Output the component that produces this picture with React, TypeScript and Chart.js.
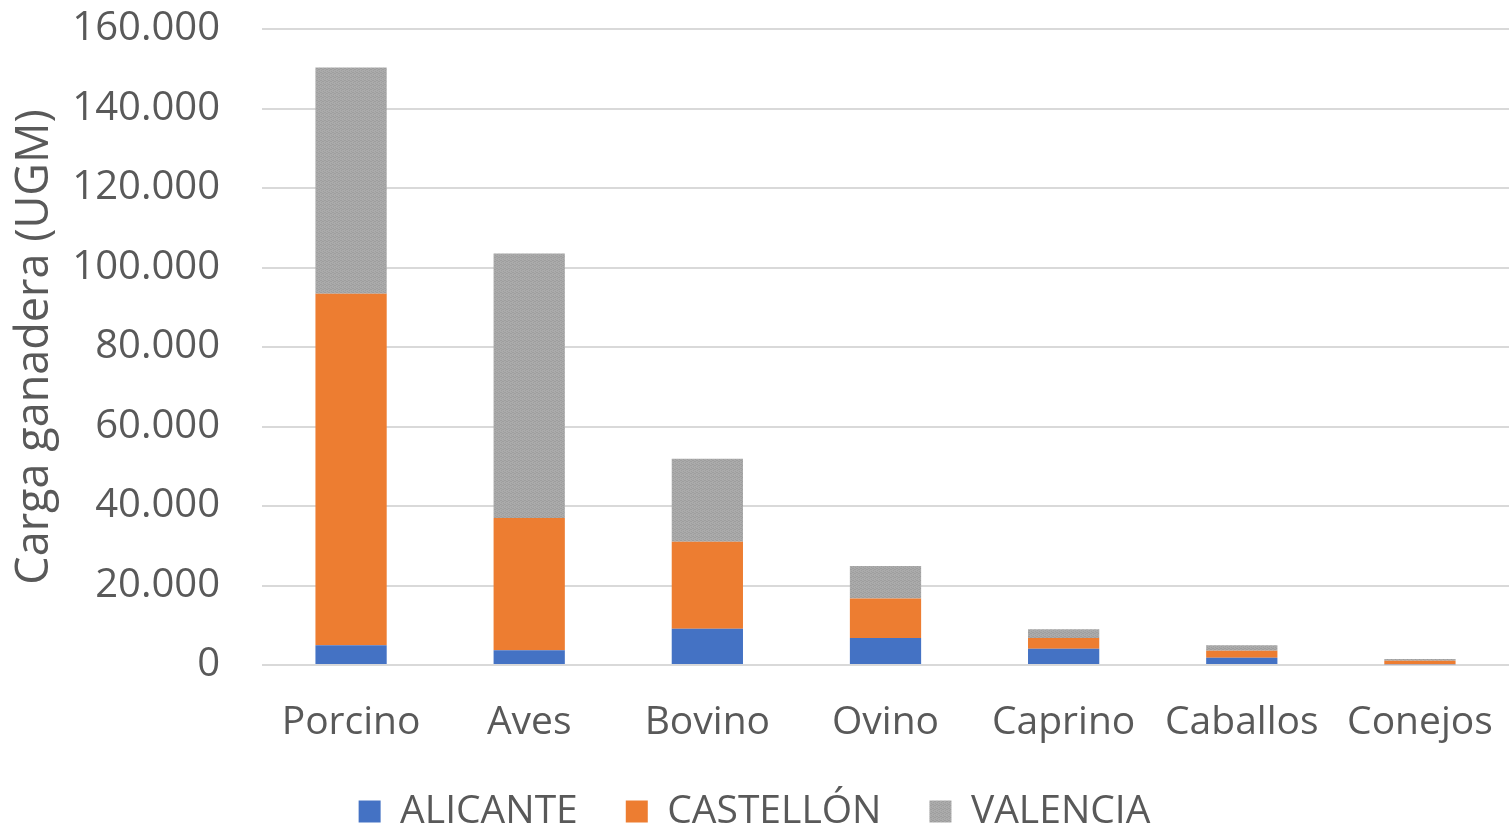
import React, { useEffect, useRef } from "react";
import { Chart, registerables } from "chart.js";

Chart.register(...registerables);

const categories = ["Porcino", "Aves", "Bovino", "Ovino", "Caprino", "Caballos", "Conejos"];
const alicante = [5000, 3700, 9100, 6800, 4100, 1800, 200];
const castellon = [88400, 33300, 21900, 9900, 2700, 1800, 900];
const valencia = [56900, 66500, 20900, 8200, 2200, 1400, 400];
const yTicks = [0, 20000, 40000, 60000, 80000, 100000, 120000, 140000, 160000];

const FONT = "'Open Sans', 'Noto Sans', sans-serif";
const TEXT = "#595959";

function fmt(v: number): string {
  return String(Math.round(v)).replace(/\B(?=(\d{3})+(?!\d))/g, ".");
}

function makeGrayPattern(ctx: CanvasRenderingContext2D): CanvasPattern | string {
  const c = document.createElement("canvas");
  c.width = 4;
  c.height = 4;
  const p = c.getContext("2d");
  if (!p) return "#A5A5A5";
  p.fillStyle = "#ABABAB";
  p.fillRect(0, 0, 4, 4);
  p.fillStyle = "#9E9E9E";
  const dots = [[0, 0], [2, 1], [1, 2], [3, 3], [3, 1], [1, 0]];
  dots.forEach(([x, y]) => p.fillRect(x, y, 1, 1));
  return ctx.createPattern(c, "repeat") || "#A5A5A5";
}

export default function App() {
  const ref = useRef<HTMLCanvasElement | null>(null);
  useEffect(() => {
    document.body.style.margin = "0";
    const ctx = ref.current!.getContext("2d")!;
    const gray = makeGrayPattern(ctx);
    const chart = new Chart(ctx, {
      type: "bar",
      data: {
        labels: categories,
        datasets: [
          { label: "ALICANTE", data: alicante, backgroundColor: "#4472C4" },
          { label: "CASTELLÓN", data: castellon, backgroundColor: "#ED7D31" },
          { label: "VALENCIA", data: valencia, backgroundColor: gray as any },
        ],
      },
      options: {
        animation: false,
        responsive: false,
        devicePixelRatio: 1,
        layout: { padding: { left: 0, right: 0, top: 29, bottom: -13 } },
        datasets: { bar: { categoryPercentage: 1, barPercentage: 0.4 } },
        plugins: {
          tooltip: { enabled: false },
          legend: {
            position: "bottom",
            labels: {
              font: { family: FONT, size: 39 },
              color: TEXT,
              boxWidth: 22,
              boxHeight: 22,
              padding: 48,
            },
          },
        },
        scales: {
          x: {
            stacked: true,
            grid: { display: false, drawTicks: false },
            border: { display: false },
            ticks: {
              font: { family: FONT, size: 39, lineHeight: 1.0 },
              color: TEXT,
              padding: 38,
              maxRotation: 0,
            },
            afterFit: (axis: any) => {
              axis.paddingLeft = 0;
              axis.paddingRight = 0;
              axis.height = 79;
            },
          },
          y: {
            stacked: true,
            min: 0,
            max: 160000,
            afterBuildTicks: (axis: any) => {
              axis.ticks = yTicks.map((v) => ({ value: v }));
            },
            afterFit: (axis: any) => {
              axis.width = 262;
              axis.paddingTop = 0;
              axis.paddingBottom = 0;
            },
            grid: { color: "#D9D9D9", lineWidth: 2, drawTicks: false },
            border: { display: false },
            ticks: {
              font: { family: FONT, size: 40 },
              color: TEXT,
              padding: 42,
              callback: (v: any) => fmt(Number(v)),
            },
            title: {
              display: true,
              text: "Carga ganadera (UGM)",
              font: { family: FONT, size: 45 },
              color: TEXT,
              padding: { top: 8, bottom: 10 },
            },
          },
        },
      },
    });
    return () => chart.destroy();
  }, []);
  return (
    <div style={{ width: 1509, height: 828, background: "#fff" }}>
      <canvas ref={ref} width={1509} height={828} style={{ display: "block" }} />
    </div>
  );
}
